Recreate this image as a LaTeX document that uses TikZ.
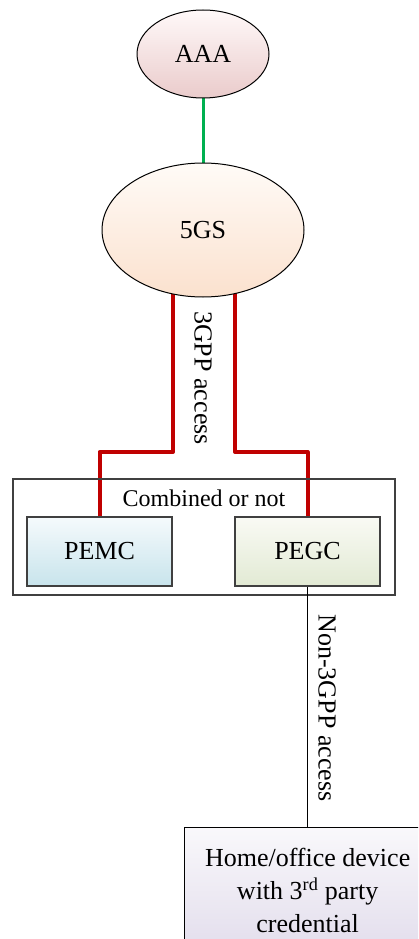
\documentclass[tikz,border=0pt]{standalone}
\usepackage{fontspec}
\setmainfont{Liberation Serif}
\usetikzlibrary{shapes.geometric,backgrounds}
\definecolor{redline}{HTML}{C00000}
\definecolor{greenline}{HTML}{00B050}
\definecolor{boxline}{HTML}{404040}
\tikzset{
  lbl/.style={font=\fontsize{26}{30}\selectfont},
  ell/.style={ellipse, draw=black, line width=1pt, inner sep=0pt, font=\fontsize{26}{30}\selectfont},
  pebox/.style={rectangle, draw=boxline, line width=1.2pt, inner sep=0pt, minimum width=145pt, minimum height=69pt, font=\fontsize{26}{30}\selectfont},
  redconn/.style={draw=redline, line width=4pt, line join=round},
  greenconn/.style={draw=greenline, line width=3pt},
  blackconn/.style={draw=black, line width=1.3pt}
}
\begin{document}
\begin{tikzpicture}[x=1pt,y=-1pt]
\useasboundingbox (0,0) rectangle (418,939);
\clip (0,0) rectangle (418,939);
\node[ell, minimum width=132pt, minimum height=88pt, top color=white!60!pink!25, bottom color={rgb,255:red,234;green,203;blue,203}] (aaa) at (203,54) {AAA};
\node[ell, minimum width=202pt, minimum height=134pt, top color={rgb,255:red,255;green,251;blue,247}, bottom color={rgb,255:red,251;green,225;blue,206}] (fgs) at (203,230) {5GS};
\node[rectangle, draw=boxline, line width=1.3pt, minimum width=382pt, minimum height=116pt, inner sep=0pt] (outer) at (204,537) {};
\node[lbl, font=\fontsize{24}{28}\selectfont] (comb) at (204,498) {Combined or not};
\node[pebox, top color={rgb,255:red,245;green,250;blue,252}, bottom color={rgb,255:red,200;green,228;blue,236}] (pemc) at (99.5,551.5) {PEMC};
\node[pebox, top color={rgb,255:red,249;green,250;blue,244}, bottom color={rgb,255:red,226;green,234;blue,212}] (pegc) at (307.5,551.5) {PEGC};
\node[rectangle, draw=black, line width=1.3pt, minimum width=246pt, minimum height=126pt, inner sep=0pt, align=center, font=\fontsize{26}{33}\selectfont, top color={rgb,255:red,249;green,248;blue,251}, bottom color={rgb,255:red,226;green,221;blue,236}, anchor=north west] (home) at (184,827) {Home/office device\\with 3\textsuperscript{rd} party\\credential};
\coordinate (l1) at (173,452);
\coordinate (r1) at (235,452);
\begin{scope}[on background layer]
\draw[greenconn] (aaa.center) -- (fgs.center);
\draw[redconn] ([xshift=-30pt]fgs.center) -- (l1) -| (pemc.north);
\draw[redconn] ([xshift=32pt]fgs.center) -- (r1) -| (pegc.north);
\end{scope}
\draw[blackconn] (pegc.south) -- (pegc.south |- home.north);
\node[lbl, rotate=-90] (l3gpp) at (203,378) {3GPP access};
\node[lbl, rotate=-90] (ln3gpp) at (327,708) {Non-3GPP access};
\end{tikzpicture}
\end{document}
